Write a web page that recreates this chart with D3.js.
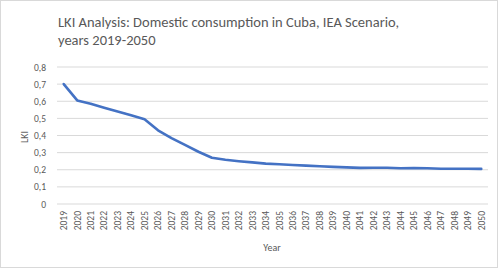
<!DOCTYPE html>
<html><head><meta charset="utf-8">
<script src="https://cdn.jsdelivr.net/npm/d3@7"></script>
<style>body{margin:0;background:#fff;} svg{display:block;}</style>
</head><body>
<svg id="c" width="502" height="269"></svg>
<script>
const years = ["2019","2020","2021","2022","2023","2024","2025","2026","2027","2028","2029","2030","2031","2032","2033","2034","2035","2036","2037","2038","2039","2040","2041","2042","2043","2044","2045","2046","2047","2048","2049","2050"];
const lki = [0.70,0.605,0.585,0.562,0.54,0.518,0.495,0.43,0.385,0.345,0.305,0.27,0.258,0.25,0.243,0.236,0.232,0.228,0.224,0.22,0.217,0.214,0.211,0.212,0.212,0.209,0.21,0.209,0.206,0.206,0.206,0.205];
const yTicks = [0,0.1,0.2,0.3,0.4,0.5,0.6,0.7,0.8];
const tickLabels = ["0","0,1","0,2","0,3","0,4","0,5","0,6","0,7","0,8"];

const svg = d3.select("#c");
const font = "Calibri, Carlito, 'Liberation Sans', Arial, sans-serif";
svg.append("rect").attr("x",0.5).attr("y",0.5).attr("width",497).attr("height",267)
  .attr("fill","#fff").attr("stroke","#d9d9d9");

const x = d3.scaleBand().domain(years).range([57,488]);
const y = d3.scaleLinear().domain([0,0.8]).range([204,67]);

const g = svg.append("g");
g.selectAll("line.grid").data(yTicks).join("line")
  .attr("x1",57).attr("x2",488)
  .attr("y1",d=>y(d)).attr("y2",d=>y(d))
  .attr("stroke","#d9d9d9").attr("stroke-width",1);

g.selectAll("text.yt").data(yTicks).join("text")
  .attr("x",46).attr("y",d=>y(d)+3.5)
  .attr("text-anchor","end").attr("font-family",font).attr("font-size",9.5)
  .attr("fill","#595959").text((d,i)=>tickLabels[i]);

g.selectAll("text.xt").data(years).join("text")
  .attr("transform",d=>`translate(${x(d)+x.bandwidth()/2+3.3},211) rotate(-90)`)
  .attr("text-anchor","end").attr("font-family",font).attr("font-size",9.5)
  .attr("fill","#595959").text(d=>d);

const line = d3.line().x((d,i)=>x(years[i])+x.bandwidth()/2).y(d=>y(d));
g.append("path").datum(lki).attr("d",line).attr("fill","none")
  .attr("stroke","#4472C4").attr("stroke-width",2.6).attr("stroke-linejoin","round").attr("stroke-linecap","round");

svg.append("text").attr("transform","translate(28,137) rotate(-90)")
  .attr("text-anchor","middle").attr("font-family",font).attr("font-size",10)
  .attr("fill","#595959").text("LKI");
svg.append("text").attr("x",272).attr("y",251)
  .attr("text-anchor","middle").attr("font-family",font).attr("font-size",10)
  .attr("fill","#595959").text("Year");

const t = svg.append("text").attr("font-family",font).attr("font-size",14.5).attr("fill","#595959");
t.append("tspan").attr("x",58).attr("y",27).text("LKI Analysis: Domestic consumption in Cuba, IEA Scenario,");
t.append("tspan").attr("x",58).attr("y",45).text("years 2019-2050");
</script>
</body></html>
